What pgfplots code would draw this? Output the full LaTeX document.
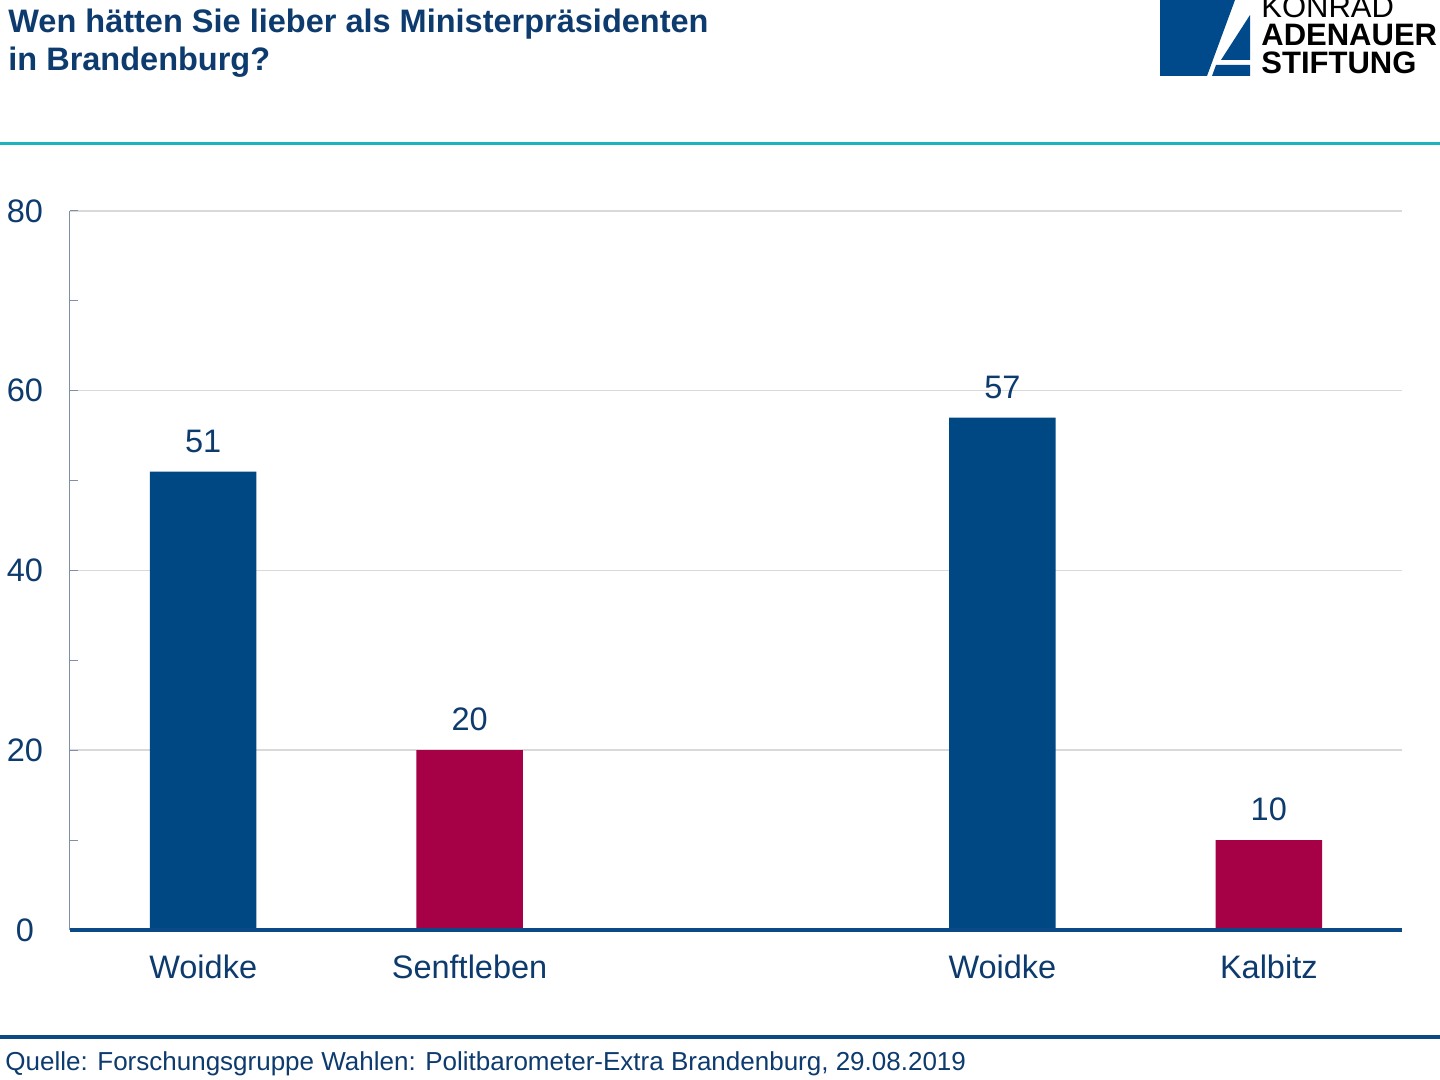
\documentclass[border=0pt]{standalone}
\usepackage{pgfplots}
\pgfplotsset{compat=1.18}
\usepackage{fontspec}
\setmainfont{Liberation Sans}
\definecolor{navytext}{HTML}{0D3B6E}
\definecolor{barblue}{HTML}{004883}
\definecolor{barred}{HTML}{A60046}
\definecolor{teal}{HTML}{1AB4BF}
\definecolor{navyline}{HTML}{0B4A86}
\definecolor{gridgray}{HTML}{D9D9D9}
\definecolor{yaxisc}{HTML}{7F8FA6}
\definecolor{logoblue}{HTML}{004A8C}
\begin{document}
\begin{tikzpicture}
\path[use as bounding box] (0,0) rectangle (720pt,540pt);
\clip (0,0) rectangle (720pt,540pt);
\fill[white] (0,0) rectangle (720pt,540pt);
\begin{scope}[x=0.5pt,y=-0.5pt,shift={(0,540pt)}]
  % title
  \node[anchor=base west,inner sep=0pt,font=\bfseries\fontsize{16.25pt}{19pt}\selectfont,text=navytext] at (8,33) {Wen hätten Sie lieber als Ministerpräsidenten};
  \node[anchor=base west,inner sep=0pt,font=\bfseries\fontsize{16.25pt}{19pt}\selectfont,text=navytext] at (8,71) {in Brandenburg?};
  % logo
  \fill[logoblue] (1160,0) -- (1235,0) -- (1207,76) -- (1160,76) -- cycle;
  \fill[logoblue] (1250,15) -- (1250,60) -- (1221,60) -- cycle;
  \fill[logoblue] (1216,65) -- (1250,65) -- (1250,76) -- (1212,76) -- cycle;
  \node[anchor=base west,inner sep=0pt,font=\fontsize{15.5pt}{18pt}\selectfont] at (1261,18) {KONRAD};
  \node[anchor=base west,inner sep=0pt,font=\bfseries\fontsize{15.5pt}{18pt}\selectfont] at (1261,46) {ADENAUER};
  \node[anchor=base west,inner sep=0pt,font=\bfseries\fontsize{15.5pt}{18pt}\selectfont] at (1261,74) {STIFTUNG};
  % lines
  \draw[teal,line width=1.5pt] (0,144) -- (1440,144);
  \draw[navyline,line width=2.25pt] (0,1037) -- (1440,1037);
  % source
  \node[anchor=base west,inner sep=0pt,font=\fontsize{13pt}{15pt}\selectfont,text=navytext] at (5,1071) {Quelle: Forschungsgruppe Wahlen: Politbarometer-Extra Brandenburg, 29.08.2019};
\end{scope}
\begin{axis}[
  at={(35pt,75pt)}, anchor=south west,
  scale only axis, width=666pt, height=359.5pt,
  xmin=-0.5, xmax=4.5, ymin=0, ymax=80,
  clip=false,
  /pgf/number format/assume math mode=true,
  ytick={0,20,40,60,80}, minor ytick={10,30,50,70},
  xtick={0,1,3,4}, xticklabels={Woidke,Senftleben,Woidke,Kalbitz},
  x tick style={draw=none},
  y tick style={yaxisc, line width=0.5pt},
  major tick length=4pt, minor tick length=4pt, tick align=inside,
  ymajorgrids, grid style={gridgray, line width=0.75pt},
  separate axis lines,
  axis x line*=bottom, axis y line*=left,
  x axis line style={draw=none},
  y axis line style={yaxisc, line width=0.5pt, -},
  tick label style={font=\fontsize{16.25pt}{19pt}\selectfont, text=navytext},
  yticklabel style={anchor=center, xshift=-22.5pt},
  xticklabel style={anchor=center, yshift=-14.5pt},
  ybar, bar width=0.4, bar shift=0pt,
  nodes near coords,
  nodes near coords style={font=\fontsize{16.25pt}{19pt}\selectfont, text=navytext, yshift=6pt},
]
\addplot[fill=barblue, draw=none] coordinates {(0,51) (3,57)};
\addplot[fill=barred, draw=none] coordinates {(1,20) (4,10)};
\draw[navyline, line width=2.25pt] (rel axis cs:0,0) -- (rel axis cs:1,0);
\end{axis}
\end{tikzpicture}
\end{document}
